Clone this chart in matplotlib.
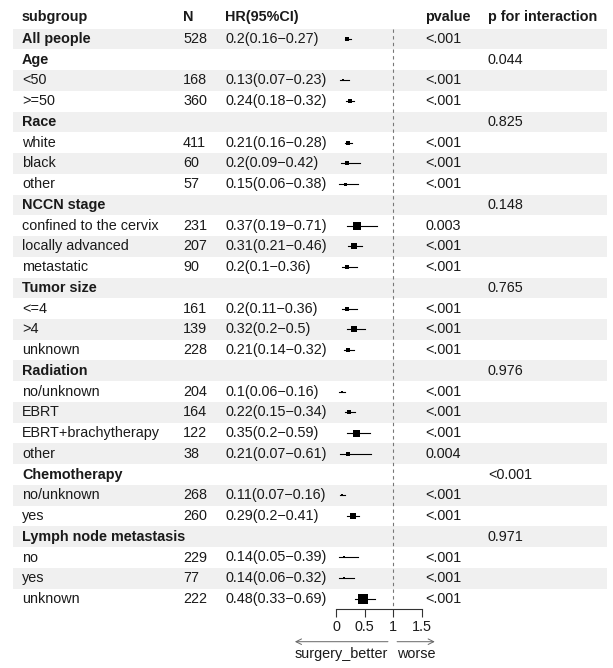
import matplotlib
matplotlib.use("Agg")
import matplotlib.pyplot as plt

plt.rcParams['font.family'] = ['Liberation Sans', 'DejaVu Sans']

# subgroup table (None = header row of a group)
subgroup = ['All people', 'Age', '<50', '>=50', 'Race', 'white', 'black', 'other',
            'NCCN stage', 'confined to the cervix', 'locally advanced', 'metastatic',
            'Tumor size', '<=4', '>4', 'unknown', 'Radiation', 'no/unknown', 'EBRT',
            'EBRT+brachytherapy', 'other', 'Chemotherapy', 'no/unknown', 'yes',
            'Lymph node metastasis', 'no', 'yes', 'unknown']
is_group = [1, 1, 0, 0, 1, 0, 0, 0, 1, 0, 0, 0, 1, 0, 0, 0, 1, 0, 0, 0, 0, 1, 0, 0, 1, 0, 0, 0]
n = [528, None, 168, 360, None, 411, 60, 57, None, 231, 207, 90, None, 161, 139, 228,
     None, 204, 164, 122, 38, None, 268, 260, None, 229, 77, 222]
est = [0.2, None, 0.13, 0.24, None, 0.21, 0.2, 0.15, None, 0.37, 0.31, 0.2, None, 0.2, 0.32, 0.21,
       None, 0.1, 0.22, 0.35, 0.21, None, 0.11, 0.29, None, 0.14, 0.14, 0.48]
lo = [0.16, None, 0.07, 0.18, None, 0.16, 0.09, 0.06, None, 0.19, 0.21, 0.1, None, 0.11, 0.2, 0.14,
      None, 0.06, 0.15, 0.2, 0.07, None, 0.07, 0.2, None, 0.05, 0.06, 0.33]
hi = [0.27, None, 0.23, 0.32, None, 0.28, 0.42, 0.38, None, 0.71, 0.46, 0.36, None, 0.36, 0.5, 0.32,
      None, 0.16, 0.34, 0.59, 0.61, None, 0.16, 0.41, None, 0.39, 0.32, 0.69]
pvalue = ['<.001', '', '<.001', '<.001', '', '<.001', '<.001', '<.001', '', '0.003', '<.001', '<.001',
          '', '<.001', '<.001', '<.001', '', '<.001', '<.001', '<.001', '0.004', '', '<.001', '<.001',
          '', '<.001', '<.001', '<.001']
p_inter = ['', '0.044', '', '', '0.825', '', '', '', '0.148', '', '', '', '0.765', '', '', '',
           '0.976', '', '', '', '', '<0.001', '', '', '0.971', '', '', '']
xticks = [0, 0.5, 1, 1.5]

W, H = 613, 668
row0, dy = 39, 20.74          # pixel y of first row, row height
x0_px, unit_px = 336, 57.1     # pixel x of HR=0, pixels per HR unit
txt = '#1a1a1a'
fs = 10.4

fig = plt.figure(figsize=(W / 100, H / 100), dpi=100)

# table layer, x in pixels, y in row units
ax_t = fig.add_axes([0, 0, 1, 1])
ax_t.set_xlim(0, W)
ax_t.set_ylim((H - row0) / dy, -row0 / dy)
ax_t.axis('off')

rows = list(range(len(subgroup)))
band_rows = [r for r in rows if r % 2 == 0]
ax_t.barh(band_rows, 594, left=13, height=1, color='#f0f0f0', zorder=0)

cols = {'subgroup': 22, 'N': 183, 'HR(95%CI)': 225, 'pvalue': 425, 'p for interaction': 488}
for name, x in cols.items():
    ax_t.text(x, -1.05, name, fontsize=fs, fontweight='bold', color=txt, va='center')

for r in rows:
    ax_t.text(cols['subgroup'], r, subgroup[r], fontsize=fs, color=txt, va='center',
              fontweight='bold' if is_group[r] else 'normal')
    if n[r] is not None:
        ax_t.text(cols['N'], r, str(n[r]), fontsize=fs, color=txt, va='center')
        hr = f"{est[r]:g}({lo[r]:g}\u2212{hi[r]:g})"
        ax_t.text(cols['HR(95%CI)'], r, hr, fontsize=fs, color=txt, va='center')
    ax_t.text(cols['pvalue'], r, pvalue[r], fontsize=fs, color=txt, va='center')
    ax_t.text(cols['p for interaction'], r, p_inter[r], fontsize=fs, color=txt, va='center')

# forest layer
left_px, right_px, axis_px = 290, 445, 609.3
ax_f = fig.add_axes([left_px / W, (H - axis_px) / H, (right_px - left_px) / W, axis_px / H])
ax_f.patch.set_alpha(0)
ax_f.set_xlim((left_px - x0_px) / unit_px, (right_px - x0_px) / unit_px)
ax_f.set_ylim((axis_px - row0) / dy, -row0 / dy)
for s in ['top', 'left', 'right']:
    ax_f.spines[s].set_visible(False)
ax_f.spines['bottom'].set_bounds(xticks[0], xticks[-1])
ax_f.spines['bottom'].set_linewidth(0.8)
ax_f.spines['bottom'].set_color('#333333')
ax_f.set_yticks([])
ax_f.set_xticks(xticks)
ax_f.set_xticklabels([f"{t:g}" for t in xticks])
ax_f.tick_params(axis='x', length=5.5, width=0.8, color='#333333', pad=2,
                 labelsize=fs, labelcolor=txt)

ax_f.plot([1, 1], [-0.5, (axis_px - row0) / dy], ls=(0, (3, 3)), color='#777777', lw=0.8)

for r in rows:
    if est[r] is None:
        continue
    ax_f.plot([lo[r], hi[r]], [r, r], color='black', lw=0.8)
    ax_f.plot(est[r], r, marker='s', color='black', ms=14.4 * est[r], mew=0)

# direction arrows
y_arrow = (641.7 - row0) / dy
y_lab = (654 - row0) / dy
arrow_kw = dict(arrowstyle='->', color='#666666', lw=0.7, shrinkA=0, shrinkB=0)
ax_f.annotate('', xy=(-0.72, y_arrow), xytext=(0.91, y_arrow), arrowprops=arrow_kw,
              annotation_clip=False)
ax_f.annotate('', xy=(1.73, y_arrow), xytext=(1.07, y_arrow), arrowprops=arrow_kw,
              annotation_clip=False)
ax_f.text(0.095, y_lab, 'surgery_better', fontsize=fs, color=txt, ha='center', va='center',
          clip_on=False)
ax_f.text(1.4, y_lab, 'worse', fontsize=fs, color=txt, ha='center', va='center', clip_on=False)

fig.savefig('out.png', dpi=100)
